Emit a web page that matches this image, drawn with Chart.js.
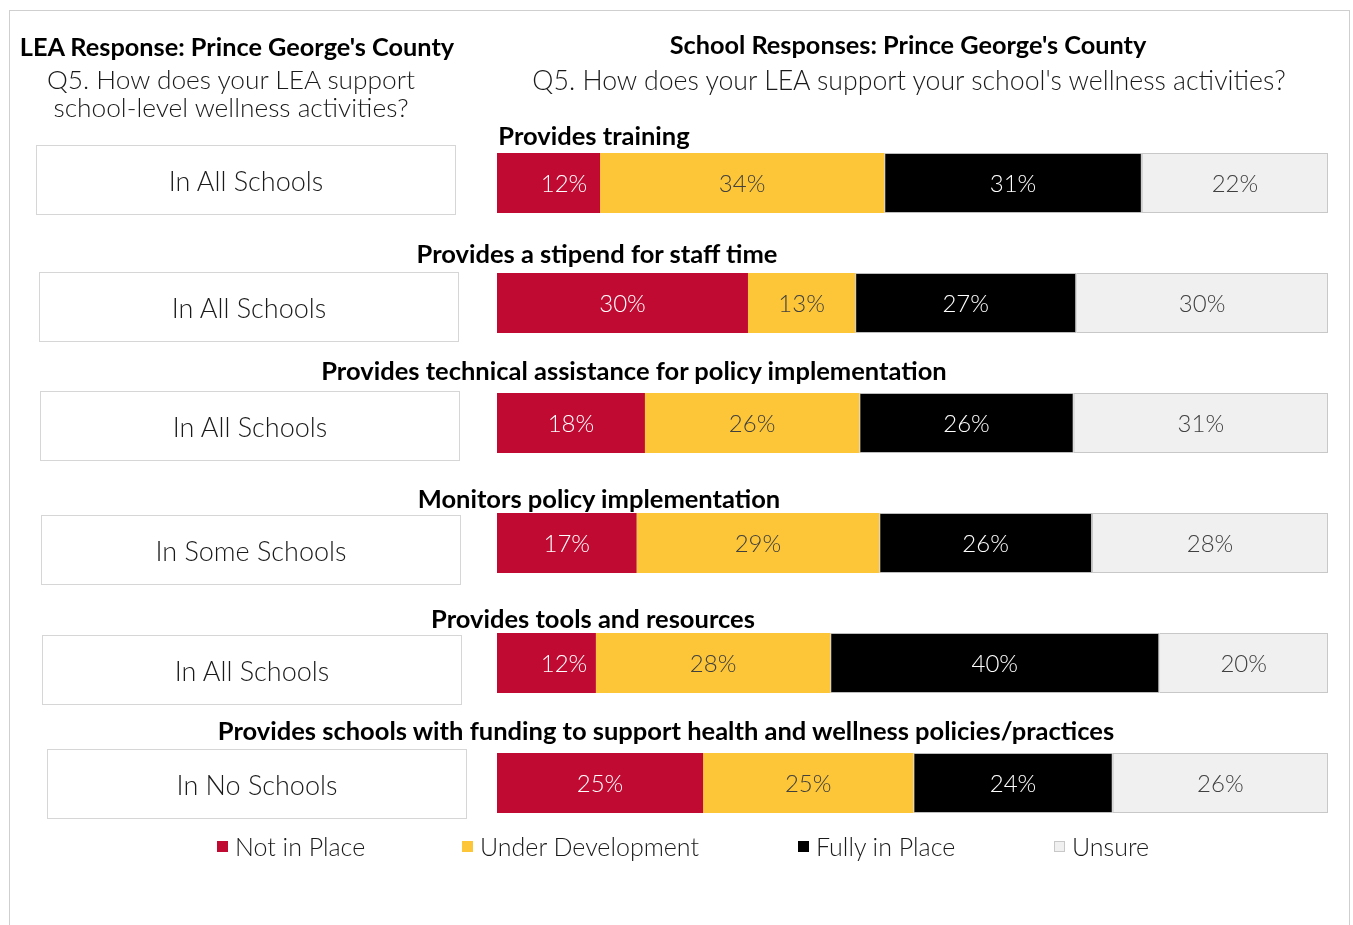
<!DOCTYPE html>
<html>
<head>
<meta charset="utf-8">
<script src="https://cdn.jsdelivr.net/npm/chart.js@4"></script>
<style>
  html,body{margin:0;padding:0;background:#fff;}
  body{width:1353px;height:925px;position:relative;overflow:hidden;font-family:"Lato","Open Sans",sans-serif;color:#111;}
  #frame{position:absolute;left:9px;top:10px;width:1341px;height:930px;border:1px solid #cfcfcf;box-sizing:border-box;}
  #c{position:absolute;left:0;top:0;}
  .t{position:absolute;white-space:nowrap;transform:translate(-50%,-50%);}
  .lea{position:absolute;border:1px solid #d6d6d6;box-sizing:border-box;display:flex;align-items:center;justify-content:center;font-size:27px;font-weight:300;color:#1a1a1a;}
  .leg{position:absolute;display:flex;align-items:center;font-size:25px;font-weight:300;color:#1a1a1a;white-space:nowrap;transform:translateY(-50%);}
  .sw{width:11px;height:11px;margin-right:7px;box-sizing:border-box;}
</style>
</head>
<body>
<div id="frame"></div>
<canvas id="c" width="1353" height="925"></canvas>
<div id="overlay"></div>
<script>
// ---- data ----
const categories = [
  "Provides training",
  "Provides a stipend for staff time",
  "Provides technical assistance for policy implementation",
  "Monitors policy implementation",
  "Provides tools and resources",
  "Provides schools with funding to support health and wellness policies/practices"
];
const leaResponses = ["In All Schools","In All Schools","In All Schools","In Some Schools","In All Schools","In No Schools"];
const seriesNames = ["Not in Place","Under Development","Fully in Place","Unsure"];
const notInPlace       = [12.4, 30.2, 17.8, 16.8, 11.9, 24.8];
const underDevelopment = [34.2, 12.9, 25.8, 29.2, 28.2, 25.3];
const fullyInPlace     = [31.0, 26.6, 25.8, 25.6, 39.6, 24.0];
const unsure           = [22.4, 30.3, 30.6, 28.4, 20.3, 25.9];
const leftTitle = "LEA Response: Prince George's County";
const leftQuestion = ["Q5. How does your LEA support","school-level wellness activities?"];
const rightTitle = "School Responses: Prince George's County";
const rightQuestion = "Q5. How does your LEA support your school's wellness activities?";

// ---- styles / layout ----
const colors = ["#c00a32","#fdc638","#000000","#f0f0f0"];
const borderColors = ["#c00a32","#fdc638","#bdbdbd","#c8c8c8"];
const labelColors = ["#ffffff","#404040","#ffffff","#404040"];
const headingPos = [[594,135],[597,253],[634,370],[599,498],[593,618],[666,730]];
const leaBoxes = [[36,145,420,70],[39,272,420,70],[40,391,420,70],[41,515,420,70],[42,635,420,70],[47,749,420,70]];
const legendX = [217,462,798,1054];
const legendY = 846;
const minLabelHalf = 67; // label boxes have a minimum width

const ov = document.getElementById('overlay');
function addText(txt, x, y, size, weight, color){
  const d = document.createElement('div');
  d.className = 't';
  d.textContent = txt;
  d.style.left = x+'px'; d.style.top = y+'px';
  d.style.fontSize = size+'px'; d.style.fontWeight = weight;
  if(color) d.style.color = color;
  ov.appendChild(d);
}
addText(leftTitle, 237, 46, 25.3, 700, '#000');
addText(leftQuestion[0], 231, 79, 26.3, 300, '#1a1a1a');
addText(leftQuestion[1], 231, 107, 26.3, 300, '#1a1a1a');
addText(rightTitle, 908, 44, 25.3, 700, '#000');
addText(rightQuestion, 909, 80, 26.7, 300, '#1a1a1a');
categories.forEach((c,i)=>addText(c, headingPos[i][0], headingPos[i][1], 25.5, 700, '#000'));
leaResponses.forEach((r,i)=>{
  const b = leaBoxes[i];
  const d = document.createElement('div');
  d.className='lea';
  d.style.left=b[0]+'px'; d.style.top=b[1]+'px'; d.style.width=b[2]+'px'; d.style.height=b[3]+'px';
  d.textContent=r;
  ov.appendChild(d);
});
seriesNames.forEach((n,i)=>{
  const d=document.createElement('div');
  d.className='leg';
  d.style.left=legendX[i]+'px'; d.style.top=legendY+'px';
  const s=document.createElement('span');
  s.className='sw';
  s.style.background=colors[i];
  if(i===3) s.style.border='1px solid #c8c8c8';
  d.appendChild(s);
  const t=document.createElement('span');
  t.textContent=n;
  d.appendChild(t);
  ov.appendChild(d);
});

const seriesData = [notInPlace, underDevelopment, fullyInPlace, unsure];
const labelPlugin = {
  id:'segLabels',
  afterDatasetsDraw(chart){
    const ctx = chart.ctx;
    ctx.save();
    ctx.font = '300 24px Lato, "Open Sans", sans-serif';
    ctx.textAlign='center'; ctx.textBaseline='middle';
    chart.data.datasets.forEach((ds,di)=>{
      const meta = chart.getDatasetMeta(di);
      meta.data.forEach((el,i)=>{
        const v = ds.data[i];
        let cx = (el.x+el.base)/2;
        if (di === 0) cx = Math.max(cx, el.base + minLabelHalf);
        ctx.fillStyle = labelColors[di];
        ctx.fillText(Math.round(v)+'%', cx, el.y+1);
      });
    });
    ctx.restore();
  }
};

new Chart(document.getElementById('c'), {
  type:'bar',
  data:{
    labels: categories,
    datasets: seriesNames.map((n,i)=>({
      label:n,
      data:seriesData[i],
      backgroundColor:colors[i],
      borderColor:borderColors[i],
      borderWidth:(i>=2)?1:0,
      borderSkipped:false,
      barPercentage:0.5,
      categoryPercentage:1.0
    }))
  },
  options:{
    indexAxis:'y',
    responsive:false,
    animation:false,
    layout:{padding:{left:497,right:25,top:123,bottom:82}},
    scales:{
      x:{stacked:true,display:false,min:0,max:100},
      y:{stacked:true,display:false}
    },
    plugins:{legend:{display:false},tooltip:{enabled:false}}
  },
  plugins:[labelPlugin]
});
</script>
</body>
</html>
